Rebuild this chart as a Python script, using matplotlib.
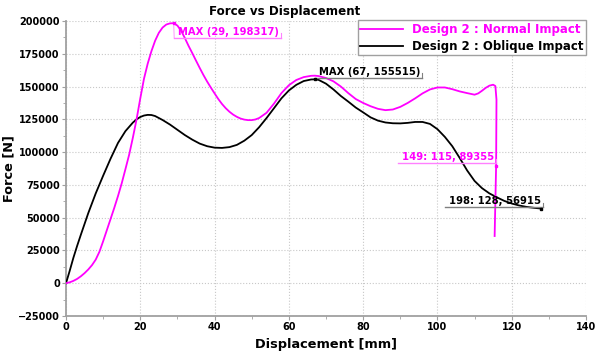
import numpy as np
import matplotlib
matplotlib.use("Agg")
import matplotlib.pyplot as plt
from matplotlib.ticker import MultipleLocator

# Force-displacement response, Design 2
normal_x = [0, 1, 2, 3, 4, 5, 6, 7, 8, 9, 10, 11, 12, 13, 14, 15, 16, 17, 18, 19,
            20, 21, 22, 23, 24, 25, 26, 27, 28, 29, 30, 31, 32, 33, 34, 35, 36, 37,
            38, 39, 40, 41, 42, 43, 44, 45, 46, 47, 48, 49, 50, 51, 52, 54, 56, 58,
            60, 62, 64, 66, 67, 68, 70, 72, 74, 76, 78, 80, 82, 84, 86, 88, 90, 92,
            94, 96, 98, 100, 102, 104, 106, 108, 110, 111, 112, 113, 114, 115,
            115.6, 115.9, 115.8, 115.4]
normal_y = [0, 700, 1800, 3300, 5300, 7700, 10500, 13800, 18000, 24000, 32000,
            40500, 49000, 57500, 66500, 76200, 87000, 98000, 111000, 125000, 141000,
            156000, 167500, 177000, 185000, 191000, 195000, 197300, 198200, 198317,
            196500, 192500, 187000, 181000, 175500, 169800, 164200, 158800, 153800,
            149200, 144800, 140500, 136700, 133500, 130800, 128600, 126900, 125600,
            124800, 124400, 124400, 124900, 126000, 130000, 137000, 145000, 151000,
            155000, 157200, 158200, 158300, 158000, 156500, 154000, 150000, 145000,
            140500, 137500, 135000, 133000, 132000, 132500, 134500, 137500, 141000,
            144800, 147800, 149300, 149300, 148000, 146300, 145000, 143800, 144800,
            146800, 149000, 150700, 151400, 150400, 140000, 89355, 36000]

oblique_x = [0, 1, 2, 3, 4, 6, 8, 10, 12, 14, 16, 18, 19, 20, 21, 22, 23, 24, 26,
             28, 30, 32, 34, 36, 38, 40, 42, 44, 46, 48, 50, 52, 54, 56, 58, 60, 62,
             64, 66, 67, 68, 70, 72, 74, 76, 78, 80, 82, 84, 86, 88, 90, 92, 94, 96,
             98, 100, 102, 104, 106, 108, 110, 112, 114, 116, 118, 120, 122, 124,
             126, 128]
oblique_y = [0, 9500, 19500, 28500, 37000, 53500, 68500, 82000, 95000, 107000,
             116000, 122500, 125000, 126800, 127900, 128400, 128300, 127500, 124500,
             121000, 117000, 113000, 109500, 106500, 104500, 103400, 103200, 103800,
             105500, 108700, 113000, 119000, 126000, 133500, 141000, 147000, 151300,
             154200, 155400, 155515, 155100, 152200, 147800, 142800, 138500, 134000,
             130300, 126500, 124000, 122600, 122000, 121900, 122300, 123000, 123000,
             121500, 117500, 111600, 104500, 95500, 86000, 78000, 72500, 68500,
             65500, 62800, 60800, 59300, 58200, 57500, 56915]

xticks = [0, 20, 40, 60, 80, 100, 120, 140]
yticks = [-25000, 0, 25000, 50000, 75000, 100000, 125000, 150000, 175000, 200000]

PINK = '#ff00ff'
GREY = '#a0a0a0'

fig = plt.figure(figsize=(5.97, 3.56), dpi=100)
ax = fig.add_axes([66/597, 1-316/356, 520/597, 295/356])

ax.plot(oblique_x, oblique_y, color='black', lw=1.3, label='Design 2 : Oblique Impact', zorder=3)
ax.plot(normal_x, normal_y, color=PINK, lw=1.3, label='Design 2 : Normal Impact', zorder=3)

ax.set_xlim(0, 140)
ax.set_ylim(-25000, 200000)
ax.set_xticks(xticks)
ax.set_yticks(yticks)
ax.xaxis.set_minor_locator(MultipleLocator(10))
ax.yaxis.set_minor_locator(MultipleLocator(12500))
ax.grid(True, which='major', color='#c8c8c8', linestyle=':', linewidth=0.8)
for s in ['top', 'right']:
    ax.spines[s].set_visible(False)
for s in ['left', 'bottom']:
    ax.spines[s].set_color(GREY)
    ax.spines[s].set_linewidth(1.3)
ax.tick_params(which='major', length=3, color=GREY, labelsize=7, pad=1.5)
ax.tick_params(which='minor', length=2, color=GREY)
for lab in ax.get_xticklabels() + ax.get_yticklabels():
    lab.set_fontweight('bold')

ax.set_xlabel('Displacement [mm]', fontsize=9.3, fontweight='bold', labelpad=4)
ax.set_ylabel('Force [N]', fontsize=9.3, fontweight='bold', labelpad=2)
fig.text(285/597, 1-11.7/356, 'Force vs Displacement', fontsize=8.6,
         fontweight='bold', ha='center', va='center')

handles, names = ax.get_legend_handles_labels()
leg = ax.legend(handles[::-1], names[::-1], loc='upper right',
                bbox_to_anchor=(1.0, 1.002), borderaxespad=0,
                fancybox=False, edgecolor=GREY, framealpha=1, handlelength=3.6,
                handletextpad=0.8, borderpad=0.2, labelspacing=0.35,
                prop={'size': 8.5, 'weight': 'bold'}, labelcolor='linecolor')
leg.get_frame().set_linewidth(1.0)

# point labels with an underline beneath each
labels = [
    (29, 198317, 'MAX (29, 198317)', PINK, '#ff80ff', 30.2, 191700),
    (67, 155515, 'MAX (67, 155515)', 'black', '#808080', 68.0, 161300),
    (115.8, 89355, '149: 115, 89355', PINK, '#ff80ff', 90.5, 95900),
    (128, 56915, '198: 128, 56915', 'black', '#808080', 103.1, 62700),
]
texts = []
for px, py, txt, c, lc, tx, ty in labels:
    ax.plot(px, py, marker='s', ms=1.8, color=c, zorder=5)
    t = ax.text(tx, ty, txt, color=c, fontsize=7.2, fontweight='bold',
                ha='left', va='center', zorder=6)
    texts.append((t, px, py, lc))

fig.canvas.draw()
inv = ax.transData.inverted()
for t, px, py, lc in texts:
    bb = t.get_window_extent()
    (x0, y0), (x1, y1) = inv.transform([[bb.x0 - 4, bb.y0 - 1], [bb.x1 + 2, bb.y1]])
    ax.plot([x0, x1], [y0, y0], color=lc, lw=1.0, zorder=4)
    ax.plot([x1, x1], [y0, y0 + (y1 - y0) * 0.4], color=lc, lw=0.8, zorder=4)
    if px < x0:
        ax.plot([px, x0], [py, y0], color=lc, lw=0.6, zorder=4)

fig.savefig('out.png', dpi=100)
